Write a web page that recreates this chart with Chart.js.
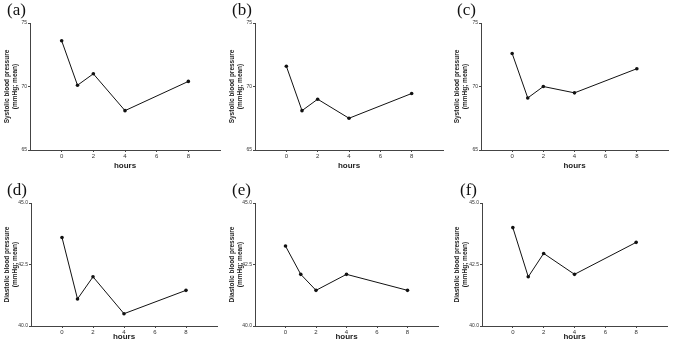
<!DOCTYPE html>
<html>
<head>
<meta charset="utf-8">
<script src="https://cdn.jsdelivr.net/npm/chart.js@4.4.1/dist/chart.umd.min.js"></script>
<style>
    body { margin: 0; background: #fff; }
    #wrap { position: relative; width: 675px; height: 342px; overflow: hidden; }
    .panel { position: absolute; width: 225px; height: 171px; }
    .tag { position: absolute; font-family: "Liberation Serif", "DejaVu Serif", serif; font-size: 17px; color: #111; }
</style>
</head>
<body>
<div id="wrap"></div>
<script>
// time points (hours)
const hours = [0, 1, 2, 4, 8];
const xTicks = [0, 2, 4, 6, 8];

// systolic, mmHg mean
const sbpA = [73.6, 70.1, 71.0, 68.1, 70.4];
const sbpB = [71.6, 68.1, 69.0, 67.5, 69.45];
const sbpC = [72.6, 69.1, 70.0, 69.5, 71.4];

// diastolic, mmHg mean
const dbpD = [43.6, 41.1, 42.0, 40.5, 41.45];
const dbpE = [43.25, 42.1, 41.45, 42.1, 41.45];
const dbpF = [44.0, 42.0, 42.95, 42.1, 43.4];

const sbpTicks = [65, 70, 75];
const dbpTicks = [40.0, 42.5, 45.0];

const sbpTitle = ['Systolic blood pressure', '(mmHg; mean)'];
const dbpTitle = ['Diastolic blood pressure', '(mmHg; mean)'];

const panels = [
    { tag: '(a)', left: 0,   top: 0,   values: sbpA, yTicks: sbpTicks, title: sbpTitle, yw: 30, padTop: 23, padRight: 5, xh: 21, tagX: 7,   tagY: 0 },
    { tag: '(b)', left: 225, top: 0,   values: sbpB, yTicks: sbpTicks, title: sbpTitle, yw: 30, padTop: 23, padRight: 7, xh: 21, tagX: 7,   tagY: 0 },
    { tag: '(c)', left: 450, top: 0,   values: sbpC, yTicks: sbpTicks, title: sbpTitle, yw: 31, padTop: 23, padRight: 7, xh: 21, tagX: 7,   tagY: 0 },
    { tag: '(d)', left: 0,   top: 171, values: dbpD, yTicks: dbpTicks, title: dbpTitle, yw: 31, padTop: 32, padRight: 8, xh: 16, tagX: 7,   tagY: 9 },
    { tag: '(e)', left: 225, top: 171, values: dbpE, yTicks: dbpTicks, title: dbpTitle, yw: 30, padTop: 32, padRight: 12, xh: 16, tagX: 7,  tagY: 9 },
    { tag: '(f)', left: 450, top: 171, values: dbpF, yTicks: dbpTicks, title: dbpTitle, yw: 32, padTop: 32, padRight: 8, xh: 16, tagX: 10, tagY: 9 }
];

const axisColor = '#444';
const fontFam = '"Liberation Sans", Arial, sans-serif';
const padLeft = 4;

const wrap = document.getElementById('wrap');

panels.forEach(p => {
    const box = document.createElement('div');
    box.className = 'panel';
    box.style.left = p.left + 'px';
    box.style.top = p.top + 'px';
    const canvas = document.createElement('canvas');
    box.appendChild(canvas);
    wrap.appendChild(box);

    const tag = document.createElement('div');
    tag.className = 'tag';
    tag.textContent = p.tag;
    tag.style.left = (p.left + p.tagX) + 'px';
    tag.style.top = (p.top + p.tagY) + 'px';
    wrap.appendChild(tag);

    const isDia = p.yTicks[0] === 40;

    new Chart(canvas, {
        type: 'line',
        data: {
            datasets: [{
                data: hours.map((h, i) => ({ x: h, y: p.values[i] })),
                borderColor: '#111',
                borderWidth: 1,
                backgroundColor: '#111',
                pointRadius: 1.8,
                pointBorderWidth: 0,
                pointHoverRadius: 1.8,
                tension: 0
            }]
        },
        options: {
            responsive: true,
            maintainAspectRatio: false,
            animation: false,
            events: [],
            layout: { padding: { top: p.padTop, right: p.padRight, left: padLeft, bottom: 0 } },
            plugins: { legend: { display: false }, tooltip: { enabled: false } },
            scales: {
                x: {
                    type: 'linear',
                    min: -2,
                    max: 10,
                    afterBuildTicks: scale => {
                        scale.ticks = xTicks.map(v => ({ value: v }));
                    },
                    afterFit: scale => { scale.height = p.xh; },
                    border: { color: axisColor, width: 1 },
                    grid: { drawOnChartArea: false, drawTicks: true, tickLength: 2, color: axisColor },
                    ticks: { color: '#333', font: { family: fontFam, size: 6 }, padding: 1, maxRotation: 0 },
                    title: {
                        display: true,
                        text: 'hours',
                        color: '#222',
                        font: { family: fontFam, size: 8, weight: 'bold' },
                        padding: { top: 0, bottom: 0 }
                    }
                },
                y: {
                    min: p.yTicks[0],
                    max: p.yTicks[p.yTicks.length - 1],
                    afterBuildTicks: scale => {
                        scale.ticks = p.yTicks.map(v => ({ value: v }));
                    },
                    afterFit: scale => { scale.width = p.yw - padLeft; },
                    border: { color: axisColor, width: 1 },
                    grid: { drawOnChartArea: false, drawTicks: true, tickLength: 2, color: axisColor },
                    ticks: {
                        color: '#333',
                        font: { family: fontFam, size: 5 },
                        padding: 1,
                        callback: v => isDia ? Number(v).toFixed(1) : v
                    },
                    title: {
                        display: true,
                        text: p.title,
                        color: '#222',
                        font: { family: fontFam, size: 6.5, weight: 'bold', lineHeight: 1.1 },
                        padding: { top: 0, bottom: 0 }
                    }
                }
            }
        }
    });
});
</script>
</body>
</html>
